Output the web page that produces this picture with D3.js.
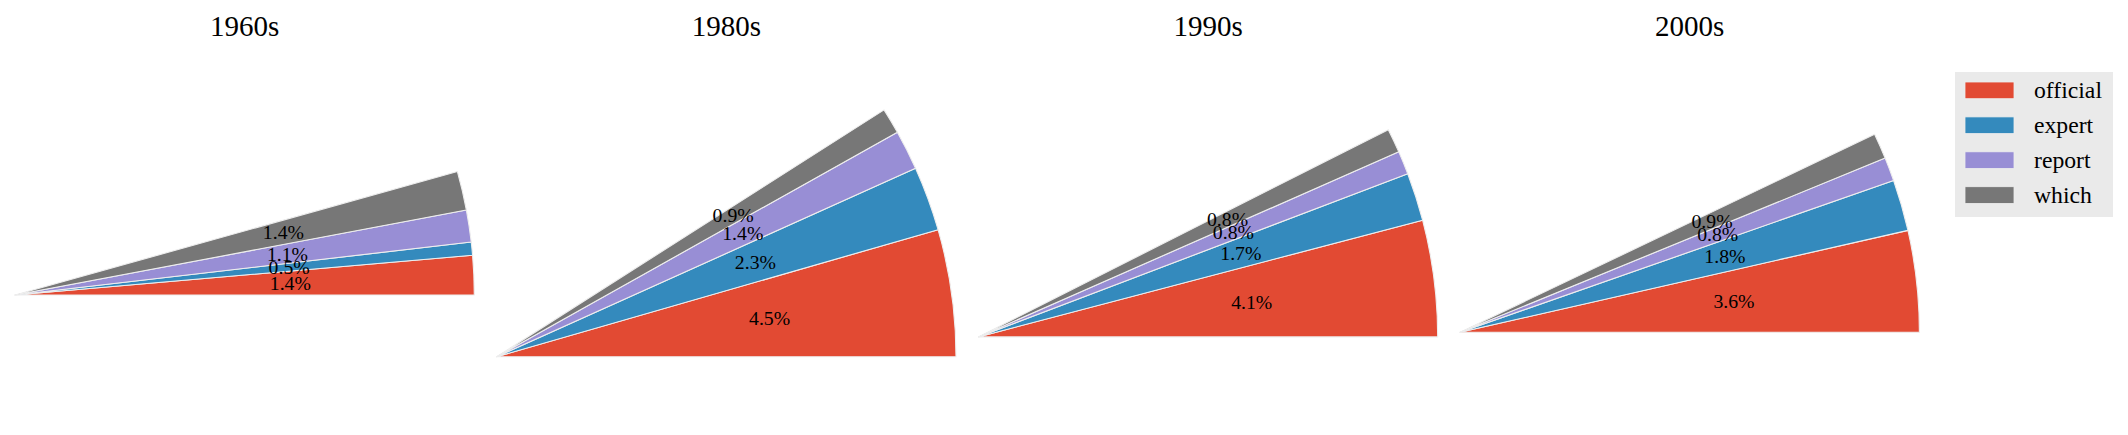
<!DOCTYPE html>
<html>
<head>
<meta charset="utf-8">
<script src="https://cdn.jsdelivr.net/npm/d3@7"></script>
<style>
  html, body { margin: 0; padding: 0; background: #ffffff; }
  svg { display: block; }
  text { font-family: "Liberation Serif", "Times New Roman", serif; fill: #000; }
</style>
</head>
<body>
<svg id="chart" width="2128" height="435"></svg>
<script>
// ---- data (percent of total) ----
const decades = ["1960s", "1980s", "1990s", "2000s"];
const categories = ["official", "expert", "report", "which"];
const official = [1.38, 4.46, 4.09, 3.56];
const expert   = [0.46, 2.27, 1.69, 1.80];
const report   = [1.12, 1.40, 0.82, 0.83];
const which    = [1.37, 0.90, 0.85, 0.90];
const colors   = ["#E24A33", "#348ABD", "#988ED5", "#777777"];

const series = [official, expert, report, which];

// ---- layout ----
const W = 2128, H = 435;
const R = 459.3;            // pie radius in px (data radius 1)
const axLeft0 = 15;          // left edge of first axes (data x = 0)
const axStep = 481.7;        // distance between axes
const axMidY = 233.3;        // vertical centre of the axes boxes
const titleY = 35.7;

const svg = d3.select("#chart");
const color = d3.scaleOrdinal().domain(categories).range(colors);
const fmt = d3.format(".1f");

decades.forEach((dec, i) => {
  const vals = series.map(s => s[i]);
  const total = d3.sum(vals);
  const totalAngle = total / 100 * 2 * Math.PI;
  const ymax = Math.sin(Math.min(totalAngle, Math.PI / 2));

  const left = axLeft0 + i * axStep;
  const x = d3.scaleLinear().domain([0, 1]).range([left, left + R]);
  // equal aspect, data y-range centred in the axes box
  const y = d3.scaleLinear()
    .domain([ymax / 2 - 0.5, ymax / 2 + 0.5])
    .range([axMidY + R / 2, axMidY - R / 2]);

  const g = svg.append("g");

  // angles: matplotlib starts at east and goes counter-clockwise
  const ang = d3.scaleLinear().domain([0, 100]).range([0, 2 * Math.PI]);
  let cum = 0;
  const wedges = vals.map((v, k) => {
    const a0 = ang(cum), a1 = ang(cum + v);
    cum += v;
    return { k, v, a0, a1 };
  });

  const rPx = x(1) - x(0);
  const arc = d3.arc().innerRadius(0).outerRadius(rPx);

  const pie = g.append("g").attr("transform", `translate(${x(0)},${y(0)})`);
  pie.selectAll("path")
    .data(wedges)
    .join("path")
    .attr("d", d => arc({ startAngle: Math.PI / 2 - d.a1, endAngle: Math.PI / 2 - d.a0 }))
    .attr("fill", d => color(categories[d.k]))
    .attr("stroke", "#EEEEEE")
    .attr("stroke-width", 1.1)
    .attr("stroke-linejoin", "round");

  // autopct labels at 0.6 r
  g.selectAll("text.pct")
    .data(wedges)
    .join("text")
    .attr("class", "pct")
    .attr("x", d => x(0.6 * Math.cos((d.a0 + d.a1) / 2)))
    .attr("y", d => y(0.6 * Math.sin((d.a0 + d.a1) / 2)))
    .attr("text-anchor", "middle")
    .attr("dominant-baseline", "central")
    .style("font-size", "19.75px")
    .text(d => fmt(d.v) + "%");

  // title
  g.append("text")
    .attr("x", (x(0) + x(1)) / 2)
    .attr("y", titleY)
    .attr("text-anchor", "middle")
    .style("font-size", "29px")
    .text(dec);
});

// ---- legend ----
const lg = svg.append("g");
lg.append("rect")
  .attr("x", 1955).attr("y", 72)
  .attr("width", 158).attr("height", 145)
  .attr("fill", "#EAEAEA");
const rowStep = 34.9;
const items = lg.selectAll("g.item").data(categories).join("g").attr("class", "item")
  .attr("transform", (d, i) => `translate(0,${i * rowStep})`);
items.append("rect")
  .attr("x", 1965).attr("y", 82)
  .attr("width", 49).attr("height", 16.7)
  .attr("fill", d => color(d))
  .attr("stroke", "#EEEEEE").attr("stroke-width", 0.8);
items.append("text")
  .attr("x", 2034).attr("y", 98.2)
  .style("font-size", "23.7px")
  .text(d => d);
</script>
</body>
</html>
